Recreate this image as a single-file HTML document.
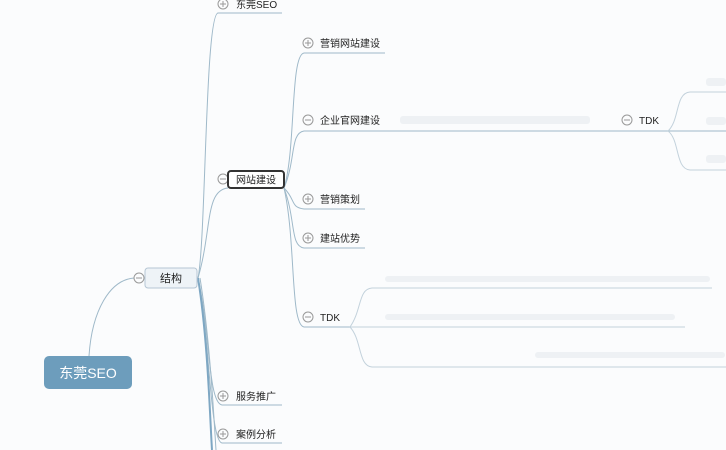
<!DOCTYPE html>
<html><head><meta charset="utf-8"><style>
html,body{margin:0;padding:0;background:#fbfcfd;}
svg{display:block;}
text{font-family:"Liberation Sans","Noto Sans CJK SC",sans-serif;font-size:10px;fill:#222;}
</style></head><body>
<svg width="726" height="450" viewBox="0 0 726 450" xmlns="http://www.w3.org/2000/svg">
<g fill="none" stroke="#9fb9c9" stroke-width="1">
<path d="M89 356 C92 310 110 280 134 278"/>
<path d="M198 278 C206 240 205 15 218 13 L282 13"/>
<path d="M198 278 C212 230 205 190 228 188"/>
<path d="M198 278 C210 330 208 403 222 405 L282 405"/>
<path d="M198 278 C210 340 210 441 222 443 L282 443"/>
<path d="M198 278 C208 340 210 420 212 450" stroke="#7ea7c3" stroke-width="2"/>
<path d="M200 278 C210 340 214 420 216 450"/>
<path d="M284 188 C296 150 290 55 304 53 L385 53"/>
<path d="M284 188 C296 160 290 133 304 131 L726 131"/>
<path d="M284 188 C296 200 290 207 304 209 L365 209"/>
<path d="M284 188 C296 220 290 246 304 248 L365 248"/>
<path d="M284 188 C296 240 290 325 304 327 L365 327"/>
<path d="M668 131 C680 120 675 93 690 92 L726 92" stroke="#c3d2dc"/>
<path d="M668 131 C680 140 675 169 690 170 L726 170" stroke="#c3d2dc"/>
<path d="M350 327 C362 310 358 289 372 288 L712 288" stroke="#c3d2dc"/>
<path d="M350 327 L685 327" stroke="#c3d2dc"/>
<path d="M350 327 C362 340 358 366 372 367 L726 367" stroke="#c3d2dc"/>
</g>
<rect x="44" y="356" width="88" height="33" rx="5" fill="#6d9dbc"/>
<text x="88" y="378" text-anchor="middle" style="fill:#fff;font-size:14px">东莞SEO</text>
<circle cx="139" cy="278" r="5" fill="#fbfcfd" stroke="#999"/>
<line x1="136" y1="278" x2="142" y2="278" stroke="#999"/>
<rect x="145" y="268" width="52" height="20" rx="3" fill="#eef3f7" stroke="#b5c6d4"/>
<text x="171" y="282" text-anchor="middle" style="font-size:11px">结构</text>
<circle cx="223" cy="179" r="5" fill="#fbfcfd" stroke="#999"/>
<line x1="220" y1="179" x2="226" y2="179" stroke="#999"/>
<rect x="228" y="171" width="56" height="17" rx="3" fill="#fff" stroke="#333" stroke-width="2"/>
<text x="256" y="183.5" text-anchor="middle">网站建设</text>
<g fill="#fbfcfd" stroke="#999">
<circle cx="223" cy="4" r="5"/><circle cx="223" cy="396" r="5"/><circle cx="223" cy="434" r="5"/>
<circle cx="308" cy="43" r="5"/><circle cx="308" cy="120" r="5"/><circle cx="308" cy="199" r="5"/>
<circle cx="308" cy="238" r="5"/><circle cx="308" cy="317" r="5"/><circle cx="627" cy="120" r="5"/>
</g>
<g stroke="#999">
<path d="M220 4h6M223 1v6M220 396h6M223 393v6M220 434h6M223 431v6"/>
<path d="M305 43h6M308 40v6M305 120h6M305 199h6M308 196v6M305 238h6M308 235v6M305 317h6M624 120h6"/>
</g>
<text x="236" y="8">东莞SEO</text>
<text x="236" y="400">服务推广</text>
<text x="236" y="438">案例分析</text>
<text x="320" y="47">营销网站建设</text>
<text x="320" y="124">企业官网建设</text>
<text x="320" y="203">营销策划</text>
<text x="320" y="242">建站优势</text>
<text x="320" y="321">TDK</text>
<text x="639" y="124">TDK</text>
<g fill="#eef1f4">
<rect x="400" y="116" width="190" height="8" rx="3"/>
<rect x="385" y="276" width="325" height="6" rx="3"/>
<rect x="385" y="314" width="290" height="6" rx="3"/>
<rect x="535" y="352" width="190" height="6" rx="3"/>
<rect x="706" y="78" width="20" height="8" rx="3"/>
<rect x="706" y="117" width="20" height="8" rx="3"/>
<rect x="706" y="155" width="20" height="8" rx="3"/>
</g>
</svg>
</body></html>
